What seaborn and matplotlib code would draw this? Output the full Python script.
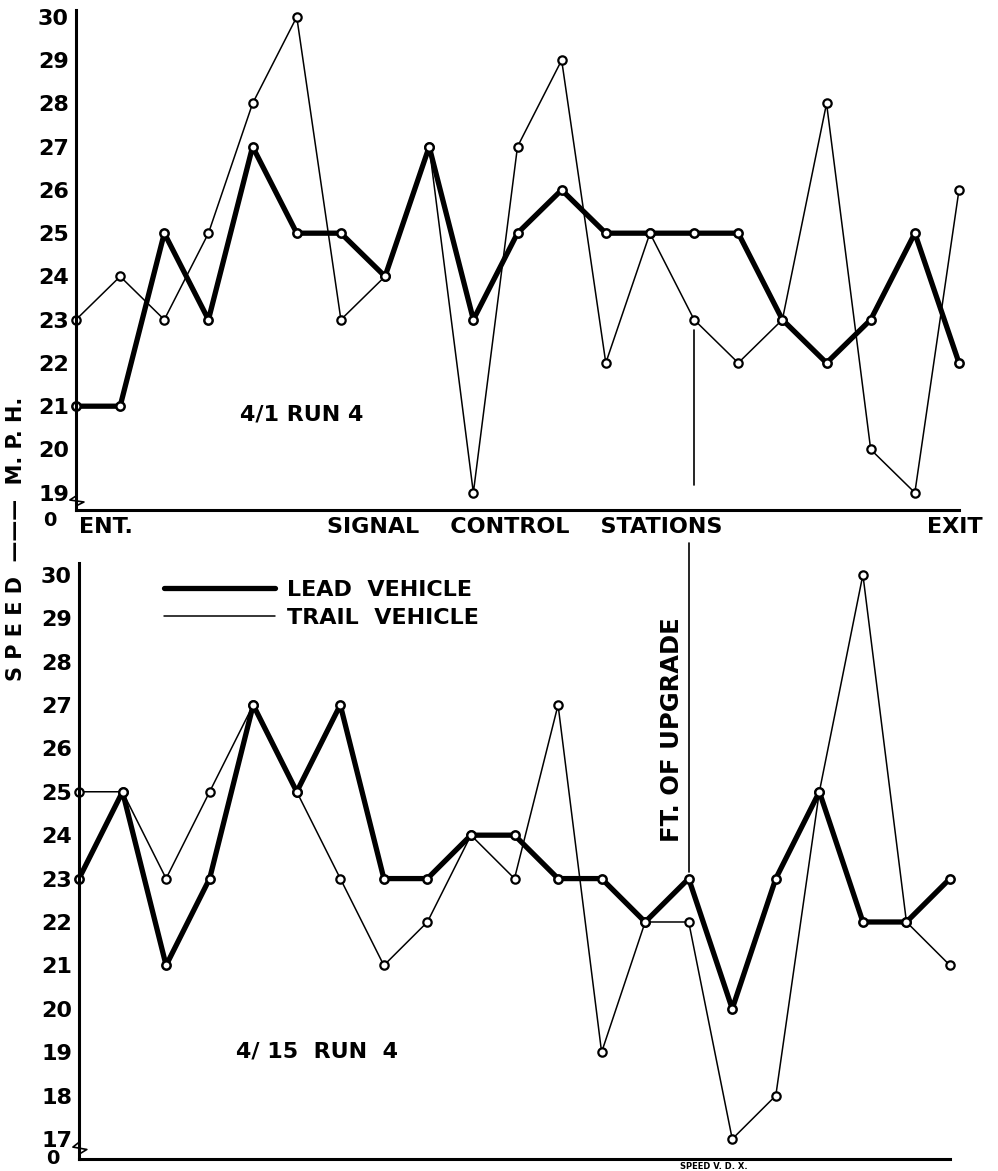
import numpy as np
import pandas as pd
import matplotlib
matplotlib.use("Agg")
import matplotlib.pyplot as plt
from matplotlib.lines import Line2D
import seaborn as sns

# stations ENT. .. EXIT (21 signal control stations)
stations = list(range(21))

# 4/1 RUN 4
lead_apr1 = [21, 21, 25, 23, 27, 25, 25, 24, 27, 23, 25, 26, 25, 25, 25, 25, 23, 22, 23, 25, 22]
trail_apr1 = [23, 24, 23, 25, 28, 30, 23, 24, 27, 19, 27, 29, 22, 25, 23, 22, 23, 28, 20, 19, 26]

# 4/15 RUN 4
lead_apr15 = [23, 25, 21, 23, 27, 25, 27, 23, 23, 24, 24, 23, 23, 22, 23, 20, 23, 25, 22, 22, 23]
trail_apr15 = [25, 25, 23, 25, 27, 25, 23, 21, 22, 24, 23, 27, 19, 22, 22, 17, 18, 25, 30, 22, 21]

top_yticks = list(range(19, 31))
bottom_yticks = list(range(17, 31))
upgrade_station = 14

sns.set_style("white")
plt.rcParams["font.family"] = ["DejaVu Sans"]
plt.rcParams["font.weight"] = "bold"
plt.rcParams["text.color"] = "black"
plt.rcParams["axes.labelcolor"] = "black"
plt.rcParams["xtick.color"] = "black"
plt.rcParams["ytick.color"] = "black"

fig = plt.figure(figsize=(9.98, 11.71), dpi=100)
ax_top = fig.add_axes([76 / 998, 1 - 510 / 1171, 883 / 998, 500 / 1171])
ax_bot = fig.add_axes([79 / 998, 1 - 1159 / 1171, 871 / 998, 596 / 1171])


def draw_run(ax, lead, trail):
    df = pd.DataFrame({"station": stations, "lead": lead, "trail": trail})
    sns.lineplot(data=df, x="station", y="lead", ax=ax, color="black", linewidth=3.8,
                 marker="o", markersize=6, markerfacecolor="white",
                 markeredgecolor="black", markeredgewidth=1.8, clip_on=False)
    sns.lineplot(data=df, x="station", y="trail", ax=ax, color="black", linewidth=1.1,
                 marker="o", markersize=6, markerfacecolor="white",
                 markeredgecolor="black", markeredgewidth=1.6, clip_on=False)
    ax.set_xlabel("")
    ax.set_ylabel("")
    ax.set_xlim(0, 20)
    ax.set_xticks(stations)
    ax.set_xticklabels([])
    for s in ["top", "right"]:
        ax.spines[s].set_visible(False)
    for s in ["left", "bottom"]:
        ax.spines[s].set_linewidth(2.2)
        ax.spines[s].set_color("black")
    ax.tick_params(axis="y", direction="in", length=20, width=1.5, pad=5,
                   labelsize=16, colors="black")
    ax.tick_params(axis="x", direction="in", length=12, width=1.5, colors="black")
    # axis break mark
    ax.plot([0, 0.009, -0.007, 0.0], [0.008, 0.016, 0.020, 0.028], color="black",
            lw=1.2, transform=ax.transAxes, clip_on=False)


draw_run(ax_top, lead_apr1, trail_apr1)
ax_top.set_ylim(18.6, 30.16)
ax_top.set_yticks(top_yticks)
ax_top.set_yticklabels([str(v) for v in top_yticks], fontweight="bold")
ax_top.text(-0.022, -0.003, "0", transform=ax_top.transAxes, ha="right", va="top",
            fontsize=14, fontweight="bold")

draw_run(ax_bot, lead_apr15, trail_apr15)
ax_bot.set_ylim(16.54, 30.27)
ax_bot.set_yticks(bottom_yticks)
ax_bot.set_yticklabels([str(v) for v in bottom_yticks], fontweight="bold")
ax_bot.text(-0.022, 0.0, "0", transform=ax_bot.transAxes, ha="right", va="center",
            fontsize=14, fontweight="bold")

# station labels under the top panel
ax_top.text(0.003, -0.014, "ENT.", transform=ax_top.transAxes, ha="left", va="top",
            fontsize=16, fontweight="bold")
ax_top.text(0.508, -0.014, "SIGNAL    CONTROL    STATIONS", transform=ax_top.transAxes,
            ha="center", va="top", fontsize=16, fontweight="bold")
ax_top.text(1.027, -0.014, "EXIT", transform=ax_top.transAxes, ha="right", va="top",
            fontsize=16, fontweight="bold")

ax_top.text(0.256, 0.19, "4/1 RUN 4", transform=ax_top.transAxes, ha="center",
            va="center", fontsize=16, fontweight="bold")
ax_bot.text(0.273, 0.18, "4/ 15  RUN  4", transform=ax_bot.transAxes, ha="center",
            va="center", fontsize=16, fontweight="bold")

# foot of upgrade marker
ax_top.axvline(upgrade_station, ymin=0.05, ymax=0.36, color="black", lw=1.2)
ax_bot.axvline(upgrade_station, ymin=0.4815, ymax=1.0336, color="black", lw=1.2,
               clip_on=False)
ax_bot.text(upgrade_station - 0.38, 0.72, "FT. OF UPGRADE",
            transform=ax_bot.get_xaxis_transform(), rotation=90, ha="center",
            va="center", fontsize=17.5, fontweight="bold")

# legend
handles = [Line2D([], [], color="black", lw=3.8), Line2D([], [], color="black", lw=1.1)]
ax_bot.legend(handles, ["LEAD  VEHICLE", "TRAIL  VEHICLE"], loc="upper left",
              bbox_to_anchor=(0.075, 1.005), frameon=False, handlelength=5.0,
              handletextpad=0.5, labelspacing=0.35, prop={"size": 16, "weight": "bold"})

fig.text(0.016, 0.54, "S P E E D  ———  M. P. H.", rotation=90, ha="center",
         va="center", fontsize=15, fontweight="bold")
fig.text(0.715, 0.0, "SPEED V. D. X.", ha="center", va="bottom", fontsize=6,
         fontweight="bold")

fig.savefig("out.png", dpi=100, facecolor="white")
